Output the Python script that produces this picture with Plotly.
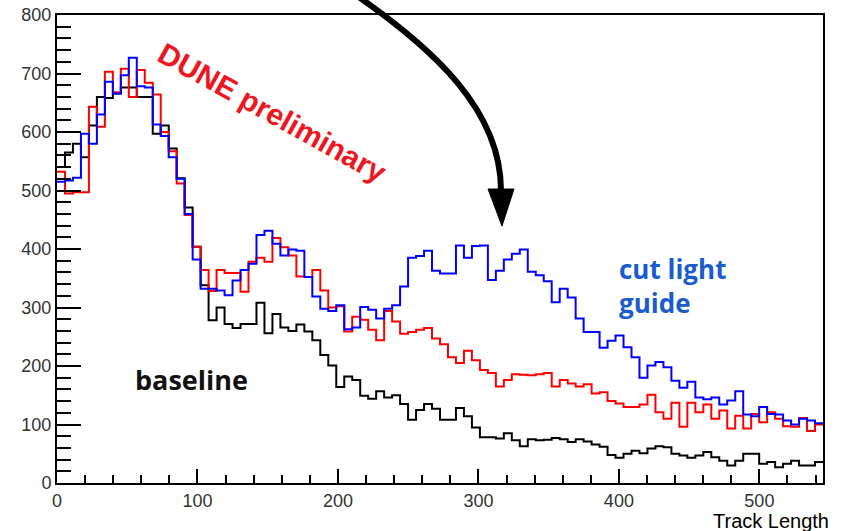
import numpy as np
import plotly.graph_objects as go

# ---------------- data ----------------
x_max = 545.3
n_bins = 96

baseline = [540, 565, 580, 557, 611, 660, 658, 666, 676, 676,
            660, 660, 597, 611, 572, 521, 471, 404, 338, 278,
            300, 272, 265, 272, 272, 308, 256, 289, 266, 260,
            271, 259, 244, 219, 201, 164, 182, 176, 149, 144,
            157, 146, 150, 135, 108, 125, 135, 127, 108, 108,
            128, 114, 95, 78, 78, 76, 85, 73, 63, 75,
            73, 74, 77, 75, 70, 75, 71, 66, 62, 48,
            43, 50, 55, 51, 59, 63, 61, 50, 47, 43,
            47, 53, 44, 38, 30, 38, 50, 50, 33, 36,
            27, 33, 38, 30, 30, 36]

red_series = [532, 495, 497, 497, 643, 609, 703, 668, 708, 660,
              706, 684, 664, 600, 567, 512, 458, 404, 364, 328,
              364, 359, 359, 327, 378, 385, 378, 419, 403, 389,
              353, 352, 364, 329, 300, 302, 259, 284, 279, 262,
              244, 294, 276, 255, 258, 262, 265, 247, 237, 215,
              205, 226, 210, 193, 188, 165, 176, 186, 185, 184,
              186, 188, 165, 176, 170, 165, 169, 153, 155, 140,
              136, 130, 130, 134, 151, 121, 110, 137, 96, 137,
              121, 134, 110, 124, 93, 115, 93, 118, 104, 121,
              110, 97, 96, 111, 89, 100]

cut_light_guide = [515, 517, 522, 597, 580, 630, 686, 666, 697, 727,
                   678, 676, 613, 593, 557, 520, 460, 382, 332, 332,
                   329, 321, 346, 364, 375, 424, 431, 409, 389, 399,
                   397, 352, 319, 298, 294, 304, 263, 266, 301, 296,
                   281, 298, 304, 336, 385, 388, 397, 363, 358, 358,
                   406, 385, 405, 406, 347, 363, 382, 392, 399, 361,
                   355, 345, 309, 332, 317, 281, 258, 258, 231, 243,
                   252, 232, 215, 180, 201, 207, 198, 175, 163, 173,
                   146, 143, 146, 134, 141, 157, 117, 114, 130, 118,
                   117, 107, 100, 110, 107, 102]

edges = np.linspace(0, x_max, n_bins + 1)

# ---------------- figure ----------------
W, H = 846, 531
ML, MR, MT, MB = 57, 23, 15, 48
PW, PH = W - ML - MR, H - MT - MB


def px2paper(px, py):
    return (px - ML) / PW, (H - MB - py) / PH


def step(vals):
    return list(edges), list(vals) + [vals[-1]]


fig = go.Figure()
for vals, col in [(baseline, "#000000"), (red_series, "#ff0000"), (cut_light_guide, "#0000ff")]:
    xs, ys = step(vals)
    fig.add_trace(go.Scatter(x=xs, y=ys, mode="lines", line=dict(color=col, width=2, shape="hv"),
                             showlegend=False, hoverinfo="skip"))

tickfont = dict(family="Liberation Sans, Arial", size=18, color="#333333")
fig.update_xaxes(range=[0, x_max], showgrid=False, zeroline=False, automargin=False,
                 showline=True, linecolor="black", linewidth=2, mirror=True,
                 ticks="inside", ticklen=14, tickwidth=2, tickcolor="black",
                 tickvals=[0, 100, 200, 300, 400, 500], tickfont=tickfont,
                 minor=dict(ticks="inside", ticklen=8, tickwidth=2, tickcolor="black", dtick=20, tick0=0))
fig.update_yaxes(range=[0, 800], showgrid=False, zeroline=False, automargin=False,
                 showline=True, linecolor="black", linewidth=2, mirror=True,
                 ticks="inside", ticklen=24, tickwidth=2, tickcolor="black",
                 tickvals=[0, 100, 200, 300, 400, 500, 600, 700, 800], tickfont=tickfont,
                 minor=dict(ticks="inside", ticklen=14, tickwidth=2, tickcolor="black", dtick=20, tick0=0))

# curved arrow
pts = [(356, -5), (432, 48), (502, 110), (501, 192)]
pp = [px2paper(*p) for p in pts]
path = "M {:.4f},{:.4f} C {:.4f},{:.4f} {:.4f},{:.4f} {:.4f},{:.4f}".format(*[c for p in pp for c in p])
tri = [px2paper(488, 189), px2paper(514, 189), px2paper(502, 226)]
tri_path = "M {:.4f},{:.4f} L {:.4f},{:.4f} L {:.4f},{:.4f} Z".format(*[c for p in tri for c in p])
fig.add_shape(type="path", path=path, xref="paper", yref="paper",
              line=dict(color="black", width=6))
fig.add_shape(type="path", path=tri_path, xref="paper", yref="paper",
              line=dict(color="black", width=1), fillcolor="black")

ann = []
x, y = px2paper(272, 112)
ann.append(dict(x=x, y=y, xref="paper", yref="paper", text="<b>DUNE preliminary</b>", textangle=29,
                xanchor="center", yanchor="middle",
                showarrow=False, font=dict(family="Liberation Sans, Arial", size=30, color="#ee1620")))
x, y = px2paper(191.5, 379)
ann.append(dict(x=x, y=y, xref="paper", yref="paper", text="<b>baseline</b>",
                xanchor="center", yanchor="middle",
                showarrow=False, font=dict(family="Open Sans", size=27, color="#111111")))
x, y = px2paper(617, 286)
ann.append(dict(x=x, y=y, xref="paper", yref="paper", text="<b>cut light<br>guide</b>",
                xanchor="left", yanchor="middle", align="left", showarrow=False,
                font=dict(family="Open Sans", size=26, color="#1a5bd0")))
x, y = px2paper(831, 521)
ann.append(dict(x=x, y=y, xref="paper", yref="paper", text="Track Length",
                xanchor="right", yanchor="middle",
                showarrow=False, font=dict(family="Liberation Sans, Arial", size=20, color="#000000")))

fig.update_layout(width=W, height=H, margin=dict(l=ML, r=MR, t=MT, b=MB),
                  paper_bgcolor="white", plot_bgcolor="white", annotations=ann)

fig.write_html("out.html")
